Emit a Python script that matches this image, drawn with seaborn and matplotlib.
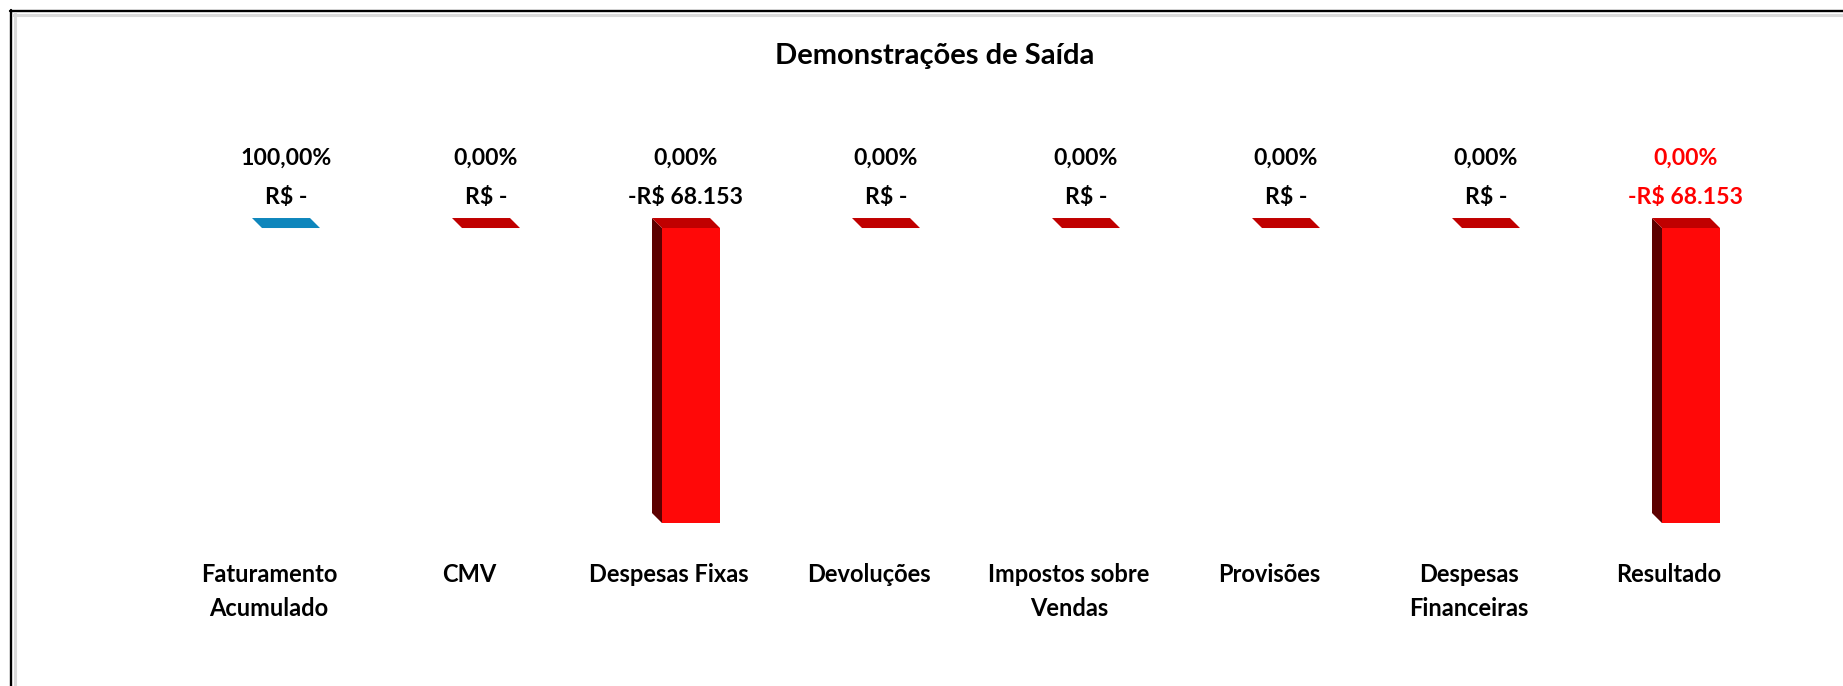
import matplotlib
matplotlib.use('Agg')
import matplotlib.pyplot as plt
from matplotlib.patches import Polygon
from matplotlib.lines import Line2D
import pandas as pd
import seaborn as sns

categories = ['Faturamento\nAcumulado', 'CMV', 'Despesas Fixas', 'Devoluções',
              'Impostos sobre\nVendas', 'Provisões', 'Despesas\nFinanceiras', 'Resultado']
values = [0, 0, -68153, 0, 0, 0, 0, -68153]
percent_labels = ['100,00%', '0,00%', '0,00%', '0,00%', '0,00%', '0,00%', '0,00%', '0,00%']
value_labels = ['R$ -', 'R$ -', '-R$ 68.153', 'R$ -', 'R$ -', 'R$ -', 'R$ -', '-R$ 68.153']

front_colors = ['#1A9AD0'] + ['#FF0808'] * 7
top_colors = ['#0E86BC'] + ['#C00000'] * 7
side_colors = ['#0A5C82'] + ['#5C0000'] * 7
label_colors = ['black'] * 7 + ['#FF0000']

sns.set_theme(style='white')
plt.rcParams['font.family'] = ['Lato', 'DejaVu Sans']

W, H = 1843, 686
fig = plt.figure(figsize=(W / 100, H / 100), dpi=100)
ax = fig.add_axes([186 / W, (H - 600.3) / H, 1600 / W, 450.2 / H])

df = pd.DataFrame({'categoria': categories, 'valor': values})
sns.barplot(data=df, x='categoria', y='valor', hue='categoria', palette=front_colors,
            width=0.29, saturation=1, legend=False, linewidth=0, ax=ax)
ax.set_xlim(-0.5, 7.5)
ax.set_ylim(-86000, 18000)
ax.axis('off')

# fake 3d: depth of 10 px to the back-left
dx = 0.05
dy = 10 * 104000 / 450.2

bars = sorted(ax.patches, key=lambda p: p.get_x())
for i, p in enumerate(bars):
    p.set_x(p.get_x() + 0.025)
    x0 = p.get_x()
    x1 = x0 + p.get_width()
    top = max(p.get_y(), p.get_y() + p.get_height())
    bottom = min(p.get_y(), p.get_y() + p.get_height())
    ax.add_patch(Polygon([(x0, top), (x0 - dx, top + dy), (x0 - dx, bottom + dy), (x0, bottom)],
                         closed=True, facecolor=side_colors[i], edgecolor='none', zorder=0.8))
    ax.add_patch(Polygon([(x0, top), (x1, top), (x1 - dx, top + dy), (x0 - dx, top + dy)],
                         closed=True, facecolor=top_colors[i], edgecolor='none', zorder=0.8))

for i in range(len(categories)):
    ax.annotate(percent_labels[i], xy=(i, 0), xytext=(0, 50.5), textcoords='offset points',
                ha='center', va='center', fontsize=16.6, fontweight='bold', color=label_colors[i])
    ax.annotate(value_labels[i], xy=(i, 0), xytext=(0, 22), textcoords='offset points',
                ha='center', va='center', fontsize=16.6, fontweight='bold', color=label_colors[i])
    ax.text(i - 0.085, (600.3 - 563) / 450.2, categories[i], transform=ax.get_xaxis_transform(),
            ha='center', va='top', multialignment='center', linespacing=1.6,
            fontsize=17, fontweight='bold', color='black')

fig.text(935 / W, 1 - 56 / H, 'Demonstrações de Saída', ha='center', va='center',
         fontsize=21, fontweight='bold', color='black')

# chart frame (only top and left edges are visible)
fig.add_artist(Line2D([10 / W, 1], [1 - 10.5 / H, 1 - 10.5 / H], transform=fig.transFigure,
                      color='black', lw=1.7))
fig.add_artist(Line2D([10.5 / W, 10.5 / W], [0, 1 - 10 / H], transform=fig.transFigure,
                      color='black', lw=1.7))
fig.add_artist(Line2D([13 / W, 1], [1 - 14.5 / H, 1 - 14.5 / H], transform=fig.transFigure,
                      color='#DADADA', lw=2.2))
fig.add_artist(Line2D([14.5 / W, 14.5 / W], [0, 1 - 13 / H], transform=fig.transFigure,
                      color='#DADADA', lw=2.2))

fig.savefig('out.png', dpi=100)
